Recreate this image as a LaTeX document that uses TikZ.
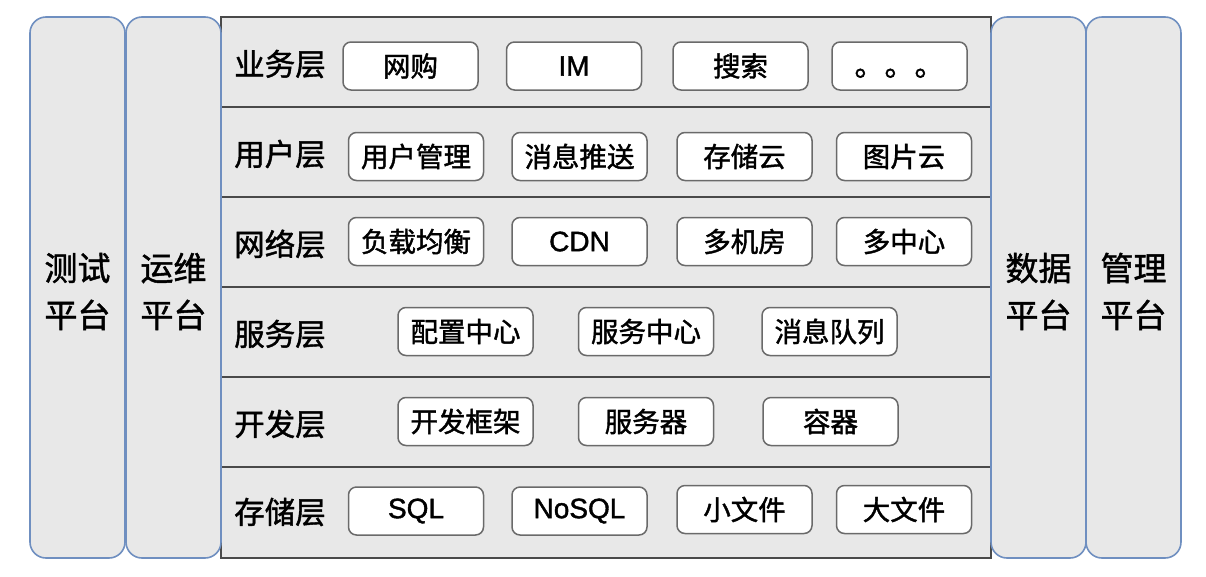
\documentclass[tikz,border=0pt]{standalone}
\usepackage{fontspec}
\setmainfont{Liberation Sans}[FakeBold=1.4]
\newfontfamily\cjk{Noto Sans CJK SC}[FakeBold=1.4]
\usepackage{tikz}
\usetikzlibrary{positioning}

\definecolor{layerbg}{HTML}{E8E8E8}
\definecolor{sideline}{HTML}{6F8FC0}
\definecolor{frameline}{HTML}{4A4A4A}
\definecolor{boxline}{HTML}{6A6A6A}

\tikzset{
  sidecol/.style={draw=sideline,line width=1.6pt,fill=layerbg,rounded corners=16pt,
    minimum width=95pt,minimum height=541pt,inner sep=0pt},
  sidelbl/.style={inner sep=0pt,align=center,font=\cjk\fontsize{33}{47}\selectfont},
  layerlbl/.style={inner sep=0pt,font=\cjk\fontsize{30.5}{30}\selectfont},
  modbox/.style={draw=boxline,line width=1.5pt,fill=white,rounded corners=8pt,
    minimum width=135pt,minimum height=48pt,inner sep=0pt,
    font=\cjk\fontsize{27.5}{27}\selectfont},
  latinbox/.style={modbox,font=\fontsize{28}{28}\selectfont}
}

\begin{document}
\begin{tikzpicture}[x=1pt,y=-1pt]
\useasboundingbox (0,0) rectangle (1206,576);

% layered stack
\draw[fill=layerbg,draw=frameline,line width=2pt] (221,17) rectangle (991,558);
\foreach \y in {107,197,287,377,467}
  \draw[frameline,line width=2pt] (221,\y)--(991,\y);

% platforms on both sides
\node[sidecol] (test) at (77.5,287.5) {};
\node[sidecol] (ops) at (173.5,287.5) {};
\node[sidecol] (data) at (1038.5,287.5) {};
\node[sidecol] (mgmt) at (1133.5,287.5) {};
\node[sidelbl] (testlbl) at ([yshift=-4pt]test.center) {测试\\平台};
\node[sidelbl] (opslbl) at ([yshift=-4pt]ops.center) {运维\\平台};
\node[sidelbl] (datalbl) at ([yshift=-4pt]data.center) {数据\\平台};
\node[sidelbl] (mgmtlbl) at ([yshift=-4pt]mgmt.center) {管理\\平台};

% layer names
\node[layerlbl] (lbiz) at (280,64) {业务层};
\node[layerlbl] (luser) at (280,154) {用户层};
\node[layerlbl] (lnet) at (280,244) {网络层};
\node[layerlbl] (lsvc) at (280,334) {服务层};
\node[layerlbl] (ldev) at (280,424) {开发层};
\node[layerlbl] (lstore) at (280,512) {存储层};

% business layer
\node[modbox] (ecom) at (410.5,66) {网购};
\node[latinbox] (im) at (574,66) {IM};
\node[modbox] (search) at (740.5,66) {搜索};
\node[modbox,font=\cjk\fontsize{30}{30}\selectfont] (more) at (899.5,66) {\raisebox{-10pt}[0pt][0pt]{。。。}};

% user layer
\node[modbox] (usermgr) at (416,156.5) {用户管理};
\node[modbox] (push) at (579.5,156.5) {消息推送};
\node[modbox] (storecloud) at (744.5,156.5) {存储云};
\node[modbox] (piccloud) at (904,156.5) {图片云};

% network layer
\node[modbox] (lb) at (416,241.5) {负载均衡};
\node[latinbox] (cdn) at (579.5,241.5) {CDN};
\node[modbox] (multiroom) at (744.5,241.5) {多机房};
\node[modbox] (multicenter) at (904,241.5) {多中心};

% service layer
\node[modbox] (confcenter) at (465.5,331.5) {配置中心};
\node[modbox] (svccenter) at (646,331.5) {服务中心};
\node[modbox] (msgqueue) at (829.5,331.5) {消息队列};

% development layer
\node[modbox] (devframe) at (465.5,421.5) {开发框架};
\node[modbox] (server) at (646,421.5) {服务器};
\node[modbox] (container) at (830.5,421.5) {容器};

% storage layer
\node[latinbox] (sql) at (416,511) {SQL};
\node[latinbox] (nosql) at (579.5,511) {NoSQL};
\node[modbox] (smallfile) at (744.5,509.5) {小文件};
\node[modbox] (bigfile) at (904,509.5) {大文件};
\end{tikzpicture}
\end{document}
